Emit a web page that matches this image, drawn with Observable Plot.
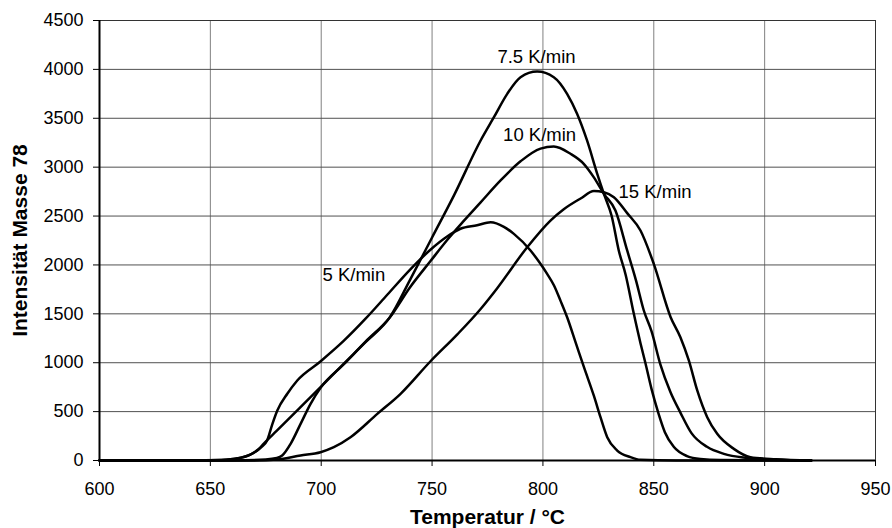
<!DOCTYPE html>
<html><head><meta charset="utf-8">
<script src="https://cdn.jsdelivr.net/npm/d3@7"></script>
<script src="https://cdn.jsdelivr.net/npm/@observablehq/plot@0.6"></script>
<style>html,body{margin:0;padding:0;background:#fff;}</style>
</head><body><div id="chart"></div>
<script>
// Series: temperature (°C) and intensity (Masse 78)
const seriesNames = ["5 K/min", "7.5 K/min", "10 K/min", "15 K/min"];

const temp5 = [600, 640, 655, 661, 668, 673, 675.6, 678, 680.2, 684.7, 689.2, 699.5, 710, 720, 730, 740, 749, 756.8, 762.8, 770.3, 776.4, 782.4, 786.9, 794.4, 798, 801.9, 805, 808, 811, 815, 818.5, 823, 826, 829, 833.5, 839.5, 844, 860, 921];
const int5  = [0, 0, 5, 17, 60, 136, 205, 375, 511, 682, 818, 1010, 1220, 1450, 1700, 1950, 2150, 2290, 2370, 2405, 2437, 2390, 2318, 2148, 2040, 1909, 1790, 1630, 1460, 1190, 954, 660, 440, 238, 102, 34, 7, 0, 0];

const temp75 = [600, 645, 655, 662, 668, 672, 674, 680, 690, 699.7, 710, 720, 731, 740, 750, 760, 771.9, 777.9, 783.9, 789.9, 797.4, 804.9, 810.9, 815.4, 819.9, 824.5, 827.5, 831, 834.2, 837.3, 841, 844, 846.3, 849, 852, 855, 859, 865, 871, 880, 921];
const int75  = [0, 0, 5, 20, 60, 120, 171, 305, 530, 750, 985, 1210, 1466, 1845, 2281, 2717, 3273, 3511, 3750, 3920, 3978, 3920, 3750, 3546, 3273, 2932, 2727, 2500, 2148, 1900, 1500, 1200, 989, 730, 490, 290, 140, 45, 15, 5, 0];

const temp10 = [600, 660, 675, 680, 682.4, 686.2, 690.7, 695.2, 699.7, 710, 720, 731, 740, 749.3, 757, 764.3, 771.9, 780.9, 789.9, 798.9, 804.9, 812.4, 818.4, 822.9, 827.5, 832.7, 838, 842, 845.5, 849, 853, 857.5, 862, 867, 874, 881.6, 892, 905, 921];
const int10  = [0, 0, 10, 25, 51, 171, 375, 580, 743, 980, 1215, 1466, 1770, 2040, 2260, 2450, 2640, 2864, 3060, 3190, 3211, 3137, 3034, 2898, 2727, 2556, 2148, 1840, 1534, 1320, 980, 700, 490, 280, 140, 68, 27, 8, 0];

const temp15 = [600, 670, 680, 690.7, 699.7, 705.7, 713.2, 725.3, 735.8, 749.3, 761.4, 771.9, 779.3, 792.9, 803.4, 809.4, 817, 823, 827.5, 832, 838, 844, 850, 857.6, 862, 865.8, 869.6, 874.1, 878.6, 886.1, 893.6, 905, 921];
const int15  = [0, 0, 10, 51, 85, 136, 238, 477, 682, 1015, 1290, 1550, 1760, 2181, 2454, 2570, 2680, 2755, 2744, 2693, 2530, 2352, 2011, 1466, 1261, 1023, 716, 443, 273, 119, 34, 12, 0];

// Curve labels
const labelTemp = [700.6, 797.1, 798.5, 834.1];
const labelInt  = [1892, 4121, 3324, 2741];
const labelAlign = ["start", "middle", "middle", "start"];

// Axis ticks
const xTicks = [600, 650, 700, 750, 800, 850, 900, 950];
const yTicks = [0, 500, 1000, 1500, 2000, 2500, 3000, 3500, 4000, 4500];
const xTitle = "Temperatur / °C";
const yTitle = "Intensität Masse 78";

const allT = [temp5, temp75, temp10, temp15];
const allI = [int5, int75, int10, int15];
const rows = [];
seriesNames.forEach((s, k) => allT[k].forEach((t, i) => rows.push({series: s, t, v: allI[k][i]})));
const labels = seriesNames.map((s, i) => ({name: s, t: labelTemp[i], v: labelInt[i], a: labelAlign[i]}));

const chart = Plot.plot({
  width: 892,
  height: 528,
  marginLeft: 99,
  marginRight: 17,
  marginTop: 20,
  marginBottom: 68,
  style: {fontFamily: "'Liberation Sans', Arial, sans-serif", fontSize: "18px", color: "black", background: "white"},
  x: {domain: [600, 950]},
  y: {domain: [0, 4500]},
  marks: [
    Plot.gridX(xTicks, {stroke: "#808080", strokeOpacity: 1, strokeWidth: 1}),
    Plot.gridY(yTicks, {stroke: "#505050", strokeOpacity: 1, strokeWidth: 1}),
    Plot.frame({stroke: "#333", strokeWidth: 1}),
    Plot.axisX(xTicks, {tickSize: 6, tickPadding: 16, label: null, fontSize: 18, tickFormat: d => String(d)}),
    Plot.axisY(yTicks, {tickSize: 6, tickPadding: 10, label: null, fontSize: 18, tickFormat: d => String(d)}),
    Plot.ruleX([600], {stroke: "black", strokeWidth: 2}),
    Plot.ruleY([0], {stroke: "black", strokeWidth: 2}),
    Plot.line(rows, {x: "t", y: "v", z: "series", stroke: "black", strokeWidth: 2.5, curve: "monotone-x"}),
    Plot.text(labels.filter(d => d.a === "start"), {x: "t", y: "v", text: "name", textAnchor: "start", fontSize: 18.5, fill: "black"}),
    Plot.text(labels.filter(d => d.a === "middle"), {x: "t", y: "v", text: "name", textAnchor: "middle", fontSize: 18.5, fill: "black"}),
    Plot.text([xTitle], {frameAnchor: "bottom", dy: 57, lineAnchor: "middle", fontWeight: "bold", fontSize: 21, fill: "black"}),
    Plot.text([yTitle], {frameAnchor: "left", dx: -79, rotate: -90, textAnchor: "middle", lineAnchor: "middle", fontWeight: "bold", fontSize: 21, fill: "black"})
  ]
});
document.getElementById("chart").appendChild(chart);
</script>
</body></html>
